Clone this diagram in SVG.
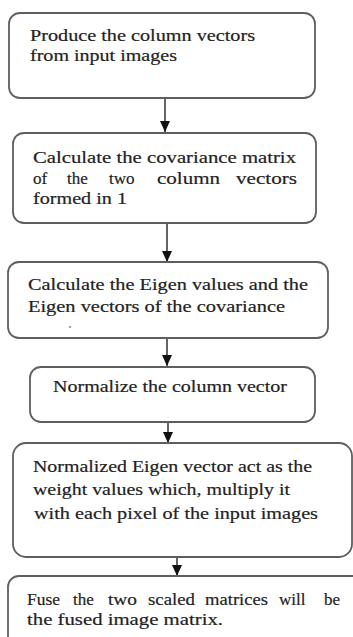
<svg xmlns="http://www.w3.org/2000/svg" width="353" height="637" viewBox="0 0 353 637">
<style>
.box{fill:#fff;stroke:#5e5e5e;stroke-width:1.8}
.t{font-family:"Liberation Serif","Times New Roman",serif;font-size:17px;fill:#222;stroke:#222;stroke-width:0.2}
.c{stroke:#111;stroke-width:1.3;fill:none}
</style>
<defs>
<marker id="ah" markerUnits="userSpaceOnUse" markerWidth="11" markerHeight="10" refX="11" refY="5" orient="auto">
<path d="M0,0 L11,5 L0,10 z" fill="#111"/>
</marker>
</defs>
<rect width="353" height="637" fill="#fff"/>
<g id="connectors">
<line class="c" x1="165" y1="98" x2="165" y2="132" marker-end="url(#ah)"/>
<line class="c" x1="167" y1="223" x2="167" y2="262" marker-end="url(#ah)"/>
<line class="c" x1="167" y1="338" x2="167" y2="366" marker-end="url(#ah)"/>
<line class="c" x1="168" y1="422" x2="168" y2="443" marker-end="url(#ah)"/>
<line class="c" x1="177" y1="557" x2="177" y2="576" marker-end="url(#ah)"/>
</g>
<g id="n1">
<rect class="box" x="9" y="13" width="306" height="85" rx="11"/>
<text class="t" x="30" y="41" textLength="225" lengthAdjust="spacingAndGlyphs">Produce the column vectors</text>
<text class="t" x="30" y="61" textLength="147" lengthAdjust="spacingAndGlyphs">from input images</text>
</g>
<g id="n2">
<rect class="box" x="13" y="133" width="303" height="90" rx="11"/>
<text class="t" x="33" y="163" textLength="263" lengthAdjust="spacingAndGlyphs">Calculate the covariance matrix</text>
<text class="t" x="33" y="184">of</text>
<text class="t" x="67" y="184">the</text>
<text class="t" x="109" y="184">two</text>
<text class="t" x="157" y="184" textLength="63" lengthAdjust="spacingAndGlyphs">column</text>
<text class="t" x="236" y="184" textLength="61" lengthAdjust="spacingAndGlyphs">vectors</text>
<text class="t" x="33" y="204" textLength="94" lengthAdjust="spacingAndGlyphs">formed in 1</text>
</g>
<g id="n3">
<rect class="box" x="8" y="262" width="320" height="76" rx="11"/>
<text class="t" x="28" y="290" textLength="280" lengthAdjust="spacingAndGlyphs">Calculate the Eigen values and the</text>
<text class="t" x="28" y="312" textLength="257" lengthAdjust="spacingAndGlyphs">Eigen vectors of the covariance</text>
<circle cx="70" cy="327" r="0.9" fill="#777"/>
</g>
<g id="n4">
<rect class="box" x="30" y="367" width="285" height="55" rx="11"/>
<text class="t" x="53" y="392" textLength="234" lengthAdjust="spacingAndGlyphs">Normalize the column vector</text>
</g>
<g id="n5">
<rect class="box" x="13" y="443" width="339" height="114" rx="13"/>
<text class="t" x="33" y="472" textLength="279" lengthAdjust="spacingAndGlyphs">Normalized Eigen  vector act as the</text>
<text class="t" x="33" y="495" textLength="257" lengthAdjust="spacingAndGlyphs">weight values which, multiply it</text>
<text class="t" x="34" y="519" textLength="284" lengthAdjust="spacingAndGlyphs">with each pixel of the input images</text>
</g>
<g id="n6">
<rect class="box" x="8" y="576" width="360" height="80" rx="11"/>
<text class="t" x="27" y="605" textLength="33" lengthAdjust="spacingAndGlyphs">Fuse</text>
<text class="t" x="73" y="605">the</text>
<text class="t" x="108" y="605" textLength="29" lengthAdjust="spacingAndGlyphs">two</text>
<text class="t" x="148" y="605" textLength="47" lengthAdjust="spacingAndGlyphs">scaled</text>
<text class="t" x="205" y="605" textLength="63" lengthAdjust="spacingAndGlyphs">matrices</text>
<text class="t" x="279" y="605">will</text>
<text class="t" x="324" y="605">be</text>
<text class="t" x="27" y="625" textLength="196" lengthAdjust="spacingAndGlyphs">the fused image matrix.</text>
</g>
</svg>
